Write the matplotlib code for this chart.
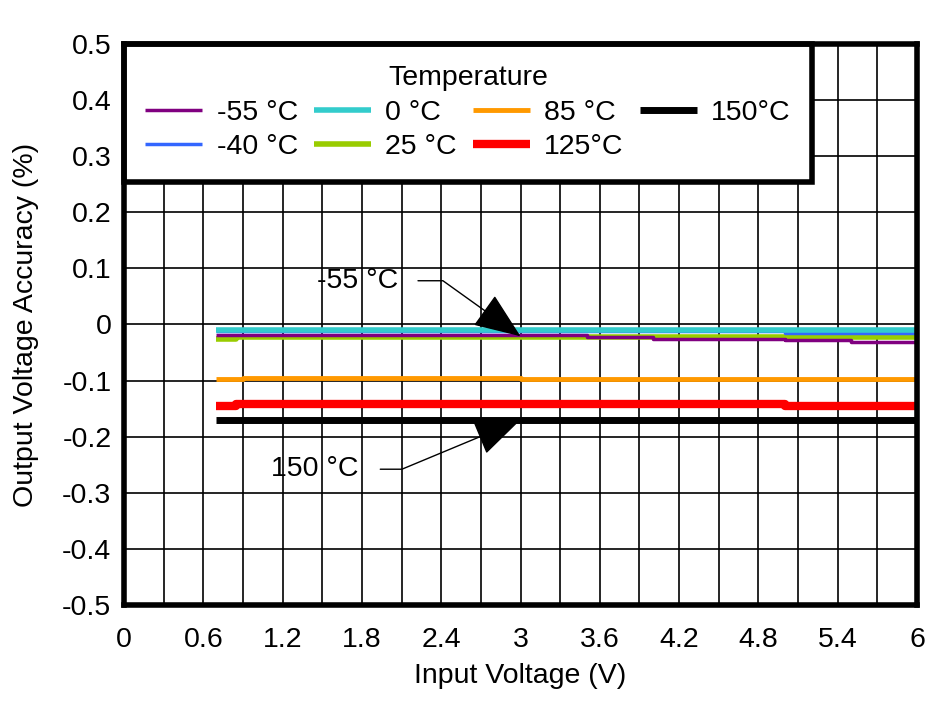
import numpy as np
import matplotlib
matplotlib.use('Agg')
import matplotlib.pyplot as plt

plt.rcParams['font.family'] = ['Liberation Sans', 'DejaVu Sans']

# step points (input voltage, accuracy %)
labels = ['-55 °C', '-40 °C', '0 °C', '25 °C', '85 °C', '125°C', '150°C']
colors = ['#800080', '#3366ff', '#33cccc', '#99cc00', '#ff9900', '#ff0000', '#000000']
widths = [2.5, 2.5, 4, 4, 3.5, 6, 5]

vin_m55 = [0.7, 3.5, 3.5, 4.0, 4.0, 5.0, 5.0, 5.5, 5.5, 6.0]
acc_m55 = [-0.019, -0.019, -0.023, -0.023, -0.025, -0.025, -0.028, -0.028, -0.031, -0.031]
vin_m40 = [0.7, 5.0, 5.0, 6.0]
acc_m40 = [-0.012, -0.012, -0.015, -0.015]
vin_0 = [0.7, 6.0]
acc_0 = [-0.009, -0.009]
vin_25 = [0.7, 0.85, 0.85, 6.0]
acc_25 = [-0.025, -0.025, -0.0225, -0.0225]
vin_85 = [0.7, 0.9, 0.9, 3.0, 3.0, 6.0]
acc_85 = [-0.097, -0.097, -0.0945, -0.0945, -0.097, -0.097]
vin_125 = [0.7, 0.85, 0.85, 5.0, 5.0, 6.0]
acc_125 = [-0.145, -0.145, -0.142, -0.142, -0.146, -0.146]
vin_150 = [0.7, 6.0]
acc_150 = [-0.170, -0.170]

series = [(vin_m55, acc_m55), (vin_m40, acc_m40), (vin_0, acc_0), (vin_25, acc_25),
          (vin_85, acc_85), (vin_125, acc_125), (vin_150, acc_150)]

xticks = np.arange(0, 6.01, 0.6)
xticklabels = ['0', '0.6', '1.2', '1.8', '2.4', '3', '3.6', '4.2', '4.8', '5.4', '6']
yticks = np.arange(-0.5, 0.51, 0.1)
yticklabels = ['-0.5', '-0.4', '-0.3', '-0.2', '-0.1', '0', '0.1', '0.2', '0.3', '0.4', '0.5']

FS = 20.5

fig = plt.figure(figsize=(9.5, 7.01), dpi=100)
ax = fig.add_axes([0.1305, 0.137, 0.8348, 0.8002])

# draw order: back to front as in the picture
order = [4, 5, 6, 3, 0, 1, 2]
handles = {}
for i in order:
    x, y = series[i]
    h, = ax.plot(x, y, color=colors[i], lw=widths[i], label=labels[i],
                 solid_capstyle='butt', zorder=3)
    handles[i] = h

ax.set_xlim(0, 6)
ax.set_ylim(-0.5, 0.5)
ax.set_xticks(xticks)
ax.set_xticklabels(xticklabels)
ax.set_xticks(np.arange(0, 6.01, 0.3), minor=True)
ax.set_yticks(yticks)
ax.set_yticklabels(yticklabels)
ax.grid(True, which='both', color='black', lw=1.2, zorder=1)
ax.tick_params(which='both', length=0, labelsize=FS)
ax.tick_params(axis='x', pad=16)
ax.tick_params(axis='y', pad=9)
for s in ax.spines.values():
    s.set_linewidth(4)
    s.set_zorder(6)

ax.set_xlabel('Input Voltage (V)', fontsize=FS, labelpad=7)
ax.set_ylabel('Output Voltage Accuracy (%)', fontsize=FS, labelpad=17)

leg = ax.legend([handles[i] for i in range(7)], labels, ncol=4, title='Temperature',
                loc='upper left', bbox_to_anchor=(0, 0.7576, 0.8676, 0.2424),
                mode='expand', borderaxespad=0,
                fontsize=FS, title_fontsize=FS, frameon=True, fancybox=False,
                framealpha=1, handlelength=2.0, columnspacing=0.6, handletextpad=0.5,
                labelspacing=0.3, borderpad=0.75)
leg.get_frame().set_edgecolor('black')
leg.get_frame().set_linewidth(4)
leg.set_zorder(5)

arrow_a = dict(arrowstyle='-|>,head_length=1.5,head_width=0.6', color='black', lw=1,
               shrinkA=12, shrinkB=0, relpos=(1, 0.5), mutation_scale=20,
               connectionstyle='angle,angleA=0,angleB=-35.6,rad=0')
arrow_b = dict(arrowstyle='-|>,head_length=1.5,head_width=0.6', color='black', lw=1,
               shrinkA=14, shrinkB=0, relpos=(1, 0.5), mutation_scale=20,
               connectionstyle='angle,angleA=0,angleB=22.6,rad=0')
ax.annotate('-55 °C', xy=(3.0, -0.021), xytext=(1.77, 0.078), fontsize=FS,
            ha='center', va='center', arrowprops=arrow_a, zorder=7)
ax.annotate('150 °C', xy=(3.0, -0.17), xytext=(1.44, -0.258), fontsize=FS,
            ha='center', va='center', arrowprops=arrow_b, zorder=7)

fig.savefig('out.png', dpi=100)
